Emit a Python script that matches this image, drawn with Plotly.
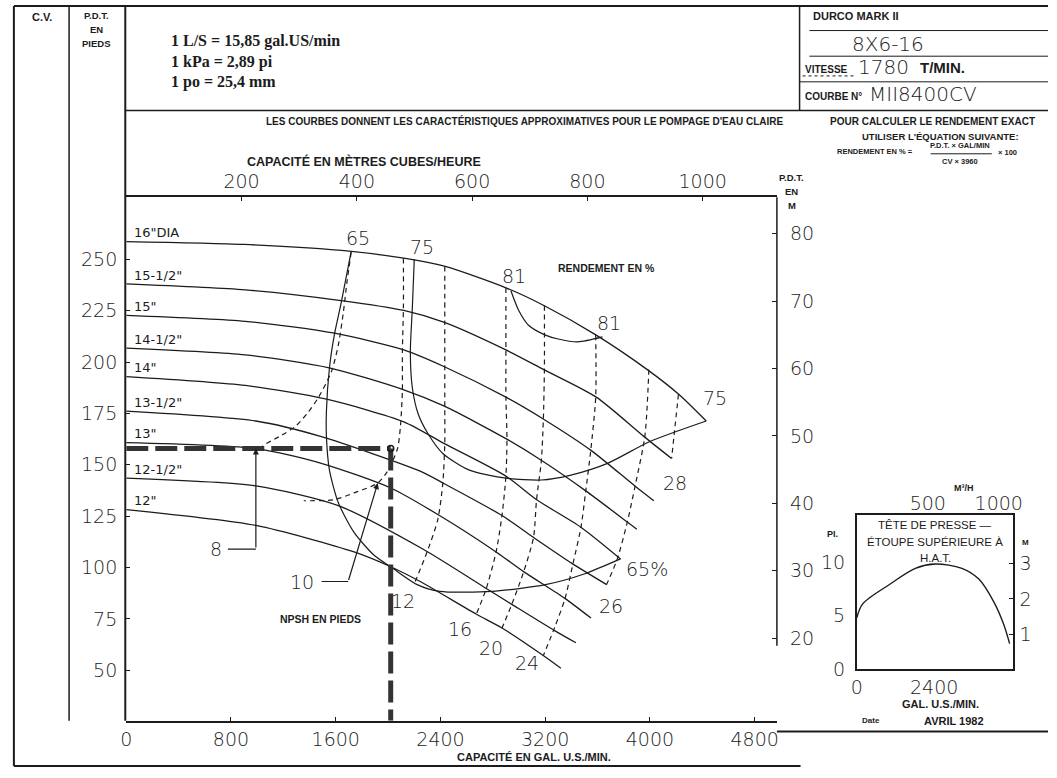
import plotly.graph_objects as go

W, H = 1057, 778
INK = "#1c1c1c"
PLOT_FONT = "DejaVu Sans"
SANS = "Liberation Sans"
SERIF = "Liberation Serif"
NARROW = "Liberation Sans Narrow, Arial Narrow, Liberation Sans"

GPM_PER_M3H = 4.4029
FT_PER_M = 3.2808

# ---- main chart: flow in US gal/min, head in feet ----
Q_RANGE = [0, 4970]
H_RANGE = [25.5, 280.2]
flow_ticks = [0, 800, 1600, 2400, 3200, 4000, 4800]
head_ticks = [50, 75, 100, 125, 150, 175, 200, 225, 250]
m3h_ticks = [200, 400, 600, 800, 1000]
metre_ticks = [20, 30, 40, 50, 60, 70, 80]

# impeller head-capacity curves
diam_labels = ['16"DIA', '15-1/2"', '15"', '14-1/2"', '14"', '13-1/2"', '13"', '12-1/2"', '12"']
q_16 = [0, 900, 1720, 2120, 2430, 2900, 3190, 3590, 3980, 4220, 4430]
h_16 = [258.6, 257.2, 253.8, 250.5, 246.6, 236.1, 227.5, 213.1, 196.3, 184.3, 171.3]
q_155 = [0, 910, 1640, 2120, 2430, 2900, 3190, 3590, 3955, 4165]
h_155 = [238.0, 235.1, 229.9, 225.1, 219.3, 205.9, 196.3, 182.9, 163.7, 153.1]
q_15 = [0, 910, 1590, 2120, 2430, 2900, 3185, 3550, 3885, 4030]
h_15 = [222.7, 219.8, 214.0, 205.9, 197.7, 182.9, 172.3, 157.0, 139.7, 132.5]
q_145 = [0, 910, 1550, 2110, 2430, 2900, 3170, 3510, 3830, 3900]
h_145 = [206.8, 203.5, 197.2, 186.7, 178.5, 162.7, 152.2, 137.3, 122.0, 118.6]
q_14 = [0, 910, 1530, 2120, 2430, 2900, 3135, 3475, 3775]
h_14 = [192.9, 188.6, 181.9, 170.9, 160.3, 144.5, 133.0, 119.5, 104.2]
q_135 = [0, 990, 1490, 2245, 2420, 2870, 3110, 3410, 3670]
h_135 = [176.1, 171.3, 163.7, 146.9, 141.1, 125.3, 114.7, 101.8, 91.7]
q_13 = [0, 990, 1490, 2020, 2380, 2825, 3035, 3350, 3550]
h_13 = [160.8, 157.9, 150.7, 138.7, 125.8, 107.6, 98.0, 85.0, 75.4]
q_125 = [0, 990, 1620, 2265, 2750, 2945, 3275, 3435]
h_125 = [143.5, 139.7, 130.1, 109.0, 89.8, 82.1, 69.2, 63.4]
q_12 = [0, 990, 1740, 2020, 2245, 2675, 2870, 3185, 3320]
h_12 = [128.2, 120.5, 107.6, 100.4, 93.2, 77.3, 70.6, 57.2, 51.0]

# iso-efficiency curves (%)
q_e65 = [1718, 1642, 1589, 1552, 1529, 1529, 1552, 1620, 1740, 1891, 2041, 2222, 2395, 2795, 3202, 3503, 3775]
h_e65 = [253.8, 228.9, 213.1, 197.2, 176.1, 163.7, 147.4, 131.5, 117.1, 106.1, 99.4, 91.7, 88.4, 88.4, 91.7, 97.0, 104.2]
q_e75 = [2200, 2185, 2170, 2185, 2230, 2305, 2418, 2621, 2900, 3171, 3397, 3676, 4000, 4430]
h_e75 = [250.0, 226.0, 204.9, 187.6, 174.7, 165.1, 155.5, 147.4, 143.5, 142.6, 145.0, 150.7, 161.3, 171.3]
q_e81 = [2938, 2998, 3073, 3202, 3299, 3450, 3638]
h_e81 = [234.7, 225.1, 217.9, 213.1, 211.2, 209.8, 212.2]

# NPSH required curves (feet)
q_n8 = [1718, 1687, 1657, 1620, 1567, 1469, 1379, 1288, 1168, 1040]
h_n8 = [253.4, 239.4, 223.6, 208.3, 195.3, 182.9, 174.7, 168.5, 163.7, 159.4]
q_n10 = [2117, 2117, 2109, 2109, 2094, 2072, 1996, 1921, 1740, 1589, 1356]
h_n10 = [250.5, 226.0, 204.9, 185.7, 168.5, 157.9, 146.9, 141.1, 136.3, 133.0, 132.5]
q_n12 = [2433, 2433, 2433, 2433, 2433, 2418, 2380, 2298, 2207]
h_n12 = [246.6, 219.3, 197.7, 178.5, 160.3, 141.1, 123.4, 107.6, 93.2]
q_n16 = [2900, 2900, 2900, 2908, 2900, 2870, 2825, 2750, 2674]
h_n16 = [236.1, 205.9, 182.9, 162.7, 144.5, 125.3, 107.6, 89.8, 77.3]
q_n20 = [3194, 3194, 3186, 3171, 3134, 3111, 3036, 2945, 2870]
h_n20 = [227.5, 196.3, 172.3, 152.2, 133.0, 114.7, 98.0, 82.1, 70.6]
q_n24 = [3586, 3586, 3548, 3510, 3473, 3412, 3352, 3277, 3186]
h_n24 = [213.1, 182.9, 157.0, 137.3, 119.5, 101.8, 85.0, 71.6, 57.2]
q_n26 = [3992, 3962, 3887, 3827, 3751, 3669]
h_n26 = [196.3, 164.2, 139.7, 122.0, 104.2, 91.7]
q_n28 = [4218, 4188, 4166]
h_n28 = [184.3, 166.5, 153.1]

# worked example: duty point
q_duty = 2020
h_duty = 157.9

# ---- submergence inset: flow in US gal/min, head in feet ----
INSET_Q_RANGE = [0, 4860]
INSET_H_RANGE = [0, 14.4]
q_hat = [0, 185, 1015, 1815, 2430, 3260, 3785, 4245, 4555, 4740]
h_hat = [4.8, 6.1, 7.9, 9.4, 9.8, 9.4, 8.4, 6.3, 4.2, 2.4]


def px(x):
    return x / W


def py(y):
    return 1 - y / H


fig = go.Figure()


def curve(q, h, dash=None, width=1.3, xa="x", ya="y", smoothing=0.7):
    fig.add_trace(go.Scatter(
        x=q, y=h, mode="lines", xaxis=xa, yaxis=ya,
        line=dict(color=INK, width=width, dash=dash, shape="spline", smoothing=smoothing),
        hoverinfo="skip", showlegend=False))


heads = [(q_16, h_16), (q_155, h_155), (q_15, h_15), (q_145, h_145), (q_14, h_14),
         (q_135, h_135), (q_13, h_13), (q_125, h_125), (q_12, h_12)]
for q, h in heads:
    curve(q, h)

for q, h in [(q_e65, h_e65), (q_e75, h_e75), (q_e81, h_e81)]:
    curve(q, h, width=1.2)

for q, h in [(q_n8, h_n8), (q_n10, h_n10), (q_n12, h_n12), (q_n16, h_n16),
             (q_n20, h_n20), (q_n24, h_n24), (q_n26, h_n26), (q_n28, h_n28)]:
    curve(q, h, dash="5px,4px", width=1.2)

# duty point guide lines
fig.add_trace(go.Scatter(x=[0, q_duty], y=[h_duty, h_duty], mode="lines",
                         line=dict(color="#333333", width=5, dash="22px,7px"),
                         hoverinfo="skip", showlegend=False))
fig.add_trace(go.Scatter(x=[q_duty, q_duty], y=[h_duty, H_RANGE[0]], mode="lines",
                         line=dict(color="#333333", width=5, dash="22px,7px"),
                         hoverinfo="skip", showlegend=False))
fig.add_trace(go.Scatter(x=[q_duty], y=[h_duty], mode="markers",
                         marker=dict(symbol="circle-open", size=6, color=INK, line=dict(width=1.5)),
                         hoverinfo="skip", showlegend=False))

# secondary-axis placeholders
fig.add_trace(go.Scatter(x=[None], y=[None], xaxis="x2", yaxis="y2", showlegend=False))
fig.add_trace(go.Scatter(x=[None], y=[None], xaxis="x4", yaxis="y4", showlegend=False))

# inset curve
curve(q_hat, h_hat, width=1.4, xa="x3", ya="y3", smoothing=0.9)

tickfont = dict(family=PLOT_FONT, size=19, color=INK, weight=200)

fig.update_layout(
    width=W, height=H, margin=dict(l=0, r=0, t=0, b=0),
    paper_bgcolor="white", plot_bgcolor="rgba(0,0,0,0)", hovermode=False,
    showlegend=False,
    xaxis=dict(domain=[px(122), px(782)], range=Q_RANGE, anchor="y",
               tickvals=flow_ticks, ticktext=[str(v) for v in flow_ticks],
               ticks="inside", ticklen=4, tickcolor=INK, showline=True, linewidth=2,
               linecolor=INK, showgrid=False, zeroline=False, tickfont=tickfont,
               ticklabelstandoff=1),
    yaxis=dict(domain=[py(731), py(200)], range=H_RANGE, anchor="x",
               tickvals=head_ticks, ticks="inside", ticklen=4, tickcolor=INK,
               showline=False, showgrid=False, zeroline=False, tickfont=tickfont,
               ticklabelstandoff=8),
    xaxis2=dict(overlaying="x", side="top", anchor="y",
                range=[Q_RANGE[0] / GPM_PER_M3H, Q_RANGE[1] / GPM_PER_M3H],
                tickvals=m3h_ticks, ticks="inside", ticklen=4, tickcolor=INK,
                showline=True, linewidth=1.5, linecolor=INK, showgrid=False,
                zeroline=False, tickfont=tickfont),
    yaxis2=dict(overlaying="y", side="right", anchor="x",
                range=[H_RANGE[0] / FT_PER_M, H_RANGE[1] / FT_PER_M],
                tickvals=metre_ticks, ticks="inside", ticklen=5, tickcolor=INK,
                showline=False, showgrid=False, zeroline=False, tickfont=tickfont,
                ticklabelstandoff=12),
    xaxis3=dict(domain=[px(863), px(1022)], range=INSET_Q_RANGE, anchor="y3",
                tickvals=[0, 2400], ticks="", showline=True, mirror=True, linewidth=1.5,
                linecolor=INK, showgrid=False, zeroline=False, tickfont=tickfont),
    yaxis3=dict(domain=[py(679), py(522)], range=INSET_H_RANGE, anchor="x3",
                tickvals=[0, 5, 10], ticks="", showline=True, mirror=True, linewidth=1.5,
                linecolor=INK, showgrid=False, zeroline=False, tickfont=tickfont,
                ticklabelstandoff=6),
    xaxis4=dict(overlaying="x3", side="top", anchor="y3",
                range=[INSET_Q_RANGE[0] / GPM_PER_M3H, INSET_Q_RANGE[1] / GPM_PER_M3H],
                tickvals=[500, 1000], ticks="", showline=False, showgrid=False,
                zeroline=False, tickfont=tickfont),
    yaxis4=dict(overlaying="y3", side="right", anchor="x3",
                range=[INSET_H_RANGE[0] / FT_PER_M, INSET_H_RANGE[1] / FT_PER_M],
                tickvals=[1, 2, 3], ticks="inside", ticklen=4, tickcolor=INK,
                showline=False, showgrid=False, zeroline=False, tickfont=tickfont,
                ticklabelstandoff=5),
)


# ---- sheet frame and title block ----
def seg(x0, y0, x1, y1, width=1.5, dash=None):
    fig.add_shape(type="line", xref="paper", yref="paper",
                  x0=px(x0), y0=py(y0), x1=px(x1), y1=py(y1),
                  line=dict(color=INK, width=width, dash=dash))


seg(8, 6, 1057, 6, 2)          # top border
seg(8, 6, 8, 777, 2)           # left border
seg(8, 777, 806, 777, 2)       # bottom border
seg(64, 6, 64, 731, 1.5)       # C.V. column
seg(121, 6, 121, 731, 2)       # head column / left axis
seg(121, 112, 1057, 112, 1.5)  # header bottom
seg(805, 6, 805, 112, 1.5)     # title block divider
seg(815, 31, 1057, 31, 1)
seg(815, 57, 1057, 57, 1)
seg(805, 83, 1057, 83, 1)
seg(782, 200, 782, 655, 1.5)   # metre axis line
seg(782, 742, 1057, 742, 2)    # block under inset
seg(808, 77, 860, 77, 1, "dot")  # under VITESSE


def note(x, y, text, size=10, family=SANS, weight="bold", xanchor="center", yanchor="middle"):
    fig.add_annotation(x=px(x), y=py(y), xref="paper", yref="paper", text=text,
                       showarrow=False, xanchor=xanchor, yanchor=yanchor,
                       font=dict(family=family, size=size, color=INK, weight=weight))


def plotnote(x, y, text, size=19, xanchor="center"):
    note(x, y, text, size=size, family=PLOT_FONT, weight=200, xanchor=xanchor)


note(37, 17, "C.V.", 11)
note(92, 16, "P.D.T.", 9.5)
note(92, 30, "EN", 9.5)
note(92, 44, "PIEDS", 9.5)
note(165, 42, "1 L/S = 15,85 gal.US/min", 16, SERIF, "bold", "left")
note(165, 63, "1 kPa = 2,89 pi", 16, SERIF, "bold", "left")
note(165, 83, "1 po = 25,4 mm", 16, SERIF, "bold", "left")

note(817, 16, "DURCO MARK II", 11, xanchor="left")
plotnote(895, 45, "8X6-16", 20)
note(808, 71, "VITESSE", 10, xanchor="left")
plotnote(890, 68, "1780", 20)
note(925, 68, "T/MIN.", 15, xanchor="left")
note(808, 98, "COURBE N°", 10, xanchor="left")
plotnote(873, 95, "MII8400CV", 20, xanchor="left")

note(262, 123, "LES COURBES DONNENT LES CARACTÉRISTIQUES APPROXIMATIVES POUR LE POMPAGE D'EAU CLAIRE",
     10, xanchor="left")
note(940, 123, "POUR CALCULER LE RENDEMENT EXACT", 10)
note(948, 138, "UTILISER L'ÉQUATION SUIVANTE:", 9.5)
note(922, 154, "RENDEMENT EN % =", 7.5, xanchor="right")
note(968, 148, "P.D.T. × GAL/MIN", 7.5)
seg(938, 156, 1000, 156, 1)
note(968, 164, "CV × 3960", 7.5)
note(1004, 155, "× 100", 7.5, xanchor="left")

note(242, 164, "CAPACITÉ EN MÈTRES CUBES/HEURE", 12.5, xanchor="left")
note(797, 180, "P.D.T.", 9.5)
note(797, 194, "EN", 9.5)
note(797, 208, "M", 9.5)
note(455, 768, "CAPACITÉ EN GAL. U.S./MIN.", 11, xanchor="left")

# inset annotations
note(972, 495, "M³/H", 9)
note(838, 542, "PI.", 9)
note(1034, 550, "M", 8)
note(942, 533, "TÊTE DE PRESSE —", 11.5, NARROW, "normal")
note(942, 550, "ÉTOUPE SUPÉRIEURE À", 11.5, NARROW, "normal")
note(943, 566, "H.A.T.", 11.5, NARROW, "normal")
note(948, 714, "GAL. U.S./MIN.", 11)
note(877, 731, "Date", 8)
note(962, 731, "AVRIL 1982", 11)


# ---- labels on the curves (data coordinates) ----
def dnote(q, h, text, size=19, family=PLOT_FONT, weight=200, xanchor="center"):
    fig.add_annotation(x=q, y=h, xref="x", yref="y", text=text, showarrow=False,
                       xanchor=xanchor, yanchor="middle",
                       font=dict(family=family, size=size, color=INK, weight=weight))


for (q, h), lab in zip(heads, diam_labels):
    dnote(45, h[0] + 4.3, lab, size=13, weight="normal", xanchor="left")

dnote(q_e65[0] + 50, h_e65[0] + 6.5, "65")
dnote(q_e75[0] + 60, h_e75[0] + 6, "75")
dnote(q_e81[0] + 20, h_e81[0] + 7, "81")
dnote(q_e81[-1] + 50, h_e81[-1] + 7, "81")
dnote(q_e75[-1] + 70, h_e75[-1] + 11, "75")
dnote(q_e65[-1] + 200, h_e65[-1] - 4.8, "65%")
dnote(3670, 245.7, "RENDEMENT EN %", size=10.5, family=SANS, weight="bold")
dnote(1480, 74.9, "NPSH EN PIEDS", size=10.5, family=SANS, weight="bold")

dnote(686, 109.0, "8")
dnote(1341, 93.2, "10")
dnote(2222, 83.6, "12", xanchor="right")
dnote(2546, 70.1, "16")
dnote(2787, 61.0, "20")
dnote(3058, 53.4, "24")
dnote(3699, 81.2, "26")
dnote(4188, 141.1, "28")

# callout leaders for the 8 ft and 10 ft NPSH curves
lead8_q = q_n8[-1] - 50
fig.add_shape(type="line", xref="x", yref="y", x0=776, y0=109.0, x1=lead8_q, y1=109.0,
              line=dict(color=INK, width=1.2))
fig.add_annotation(x=lead8_q, y=h_n8[-1] - 1.5, ax=lead8_q, ay=109.0, xref="x", yref="y",
                   axref="x", ayref="y", showarrow=True, arrowhead=2, arrowsize=1,
                   arrowwidth=1.2, arrowcolor=INK, text="")
fig.add_shape(type="line", xref="x", yref="y", x0=1492, y0=93.2, x1=1695, y1=93.2,
              line=dict(color=INK, width=1.2))
fig.add_annotation(x=q_n10[7], y=h_n10[7], ax=1695, ay=93.2, xref="x", yref="y",
                   axref="x", ayref="y", showarrow=True, arrowhead=2, arrowsize=1,
                   arrowwidth=1.2, arrowcolor=INK, text="")

fig.write_html("out.html")
